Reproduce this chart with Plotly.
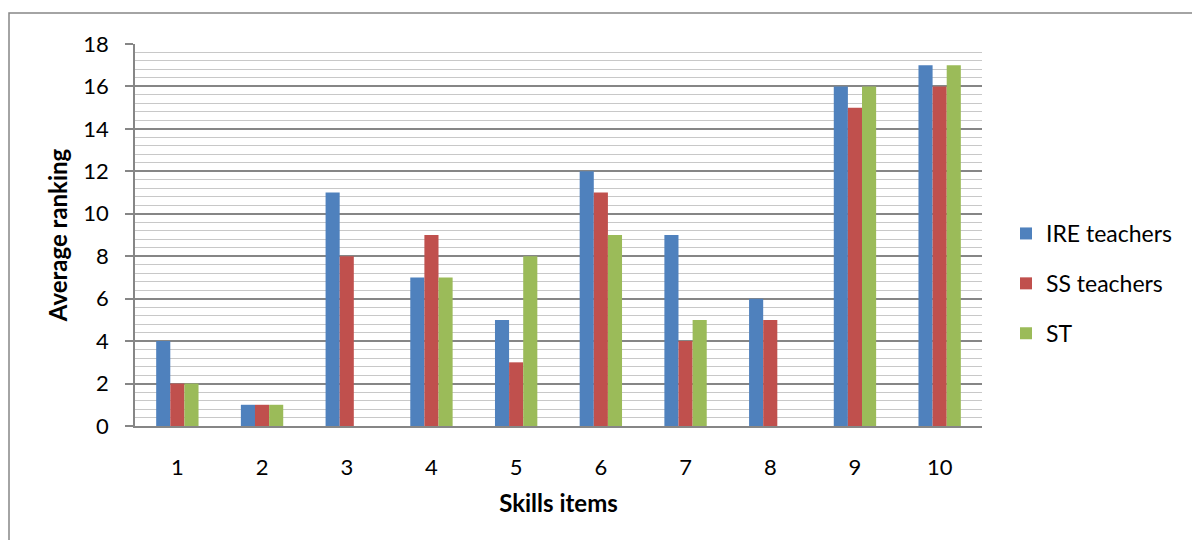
import plotly.graph_objects as go

categories = ["1", "2", "3", "4", "5", "6", "7", "8", "9", "10"]
ire_teachers = [4, 1, 11, 7, 5, 12, 9, 6, 16, 17]
ss_teachers = [2, 1, 8, 9, 3, 11, 4, 5, 15, 16]
st = [2, 1, 0, 7, 8, 9, 5, 0, 16, 17]

series = [
    ("IRE teachers", ire_teachers, "#4F81BD"),
    ("SS teachers", ss_teachers, "#C0504D"),
    ("ST", st, "#9BBB59"),
]

FONT = "Lato"

fig = go.Figure()
for name, vals, col in series:
    fig.add_trace(go.Bar(x=categories, y=vals, name=name, legendgroup=name,
                         marker=dict(color=col, line=dict(width=0))))

L, R, T, B = 135, 210, 44, 114
W, H = 1192, 540
pw, ph = W - L - R, H - T - B

fig.update_layout(
    width=W, height=H,
    margin=dict(l=L, r=R, t=T, b=B, autoexpand=False),
    paper_bgcolor="white", plot_bgcolor="white",
    barmode="group", bargap=0.5, bargroupgap=0,
    font=dict(family=FONT, size=22, color="black"),
    legend=dict(x=(1006 - L) / pw, y=1 - (212 - T) / ph, xanchor="left", yanchor="top",
                font=dict(size=23), tracegroupgap=17, itemwidth=30, bgcolor="rgba(0,0,0,0)"),
    xaxis=dict(type="category", showline=True, linecolor="#868686", linewidth=1.5,
               showgrid=False, ticks="", ticklabelstandoff=21, automargin=False,
               title=dict(text="<b>Skills items</b>", font=dict(size=24), standoff=16)),
    yaxis=dict(range=[0, 18], dtick=2, showline=True, linecolor="#868686", linewidth=1.5,
               ticks="outside", ticklen=8, tickcolor="#868686", tickwidth=1.5,
               showgrid=True, gridcolor="#868686", gridwidth=1.5,
               minor=dict(dtick=0.4, showgrid=True, gridcolor="#C8C8C8", gridwidth=1.2),
               ticklabelstandoff=12, automargin=False, zeroline=False,
               title=dict(text="<b>Average ranking</b>", font=dict(size=24), standoff=9)),
    shapes=[dict(type="rect", xref="paper", yref="paper",
                 x0=(9 - L) / pw, x1=(1250 - L) / pw,
                 y0=1 - (600 - T) / ph, y1=1 + (T - 13) / ph,
                 line=dict(color="#868686", width=1.5), fillcolor="rgba(0,0,0,0)", layer="below")],
)

fig.write_html("out.html")
